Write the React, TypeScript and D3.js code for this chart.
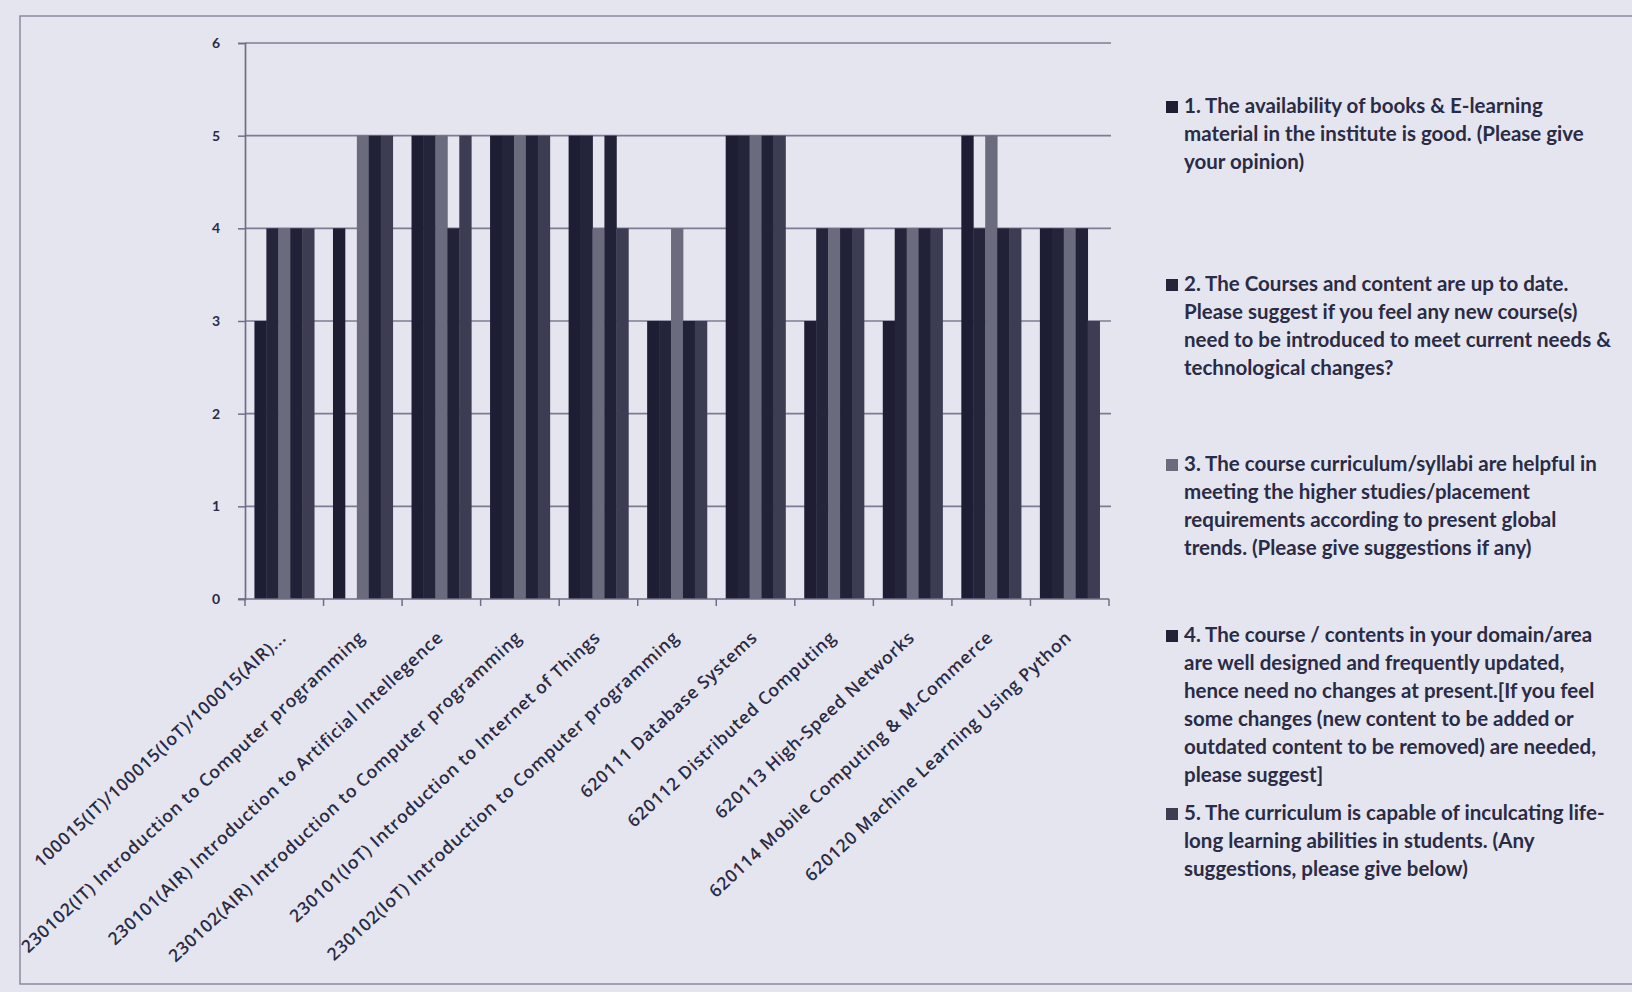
import React, { useEffect, useRef } from 'react';
import * as d3 from 'd3';

const courses = [
  '100015(IT)/100015(IoT)/100015(AIR)...',
  '230102(IT) Introduction to Computer programming',
  '230101(AIR) Introduction to Artificial Intellegence',
  '230102(AIR) Introduction to Computer programming',
  '230101(IoT) Introduction to Internet of Things',
  '230102(IoT) Introduction to Computer programming',
  '620111 Database Systems',
  '620112 Distributed Computing',
  '620113 High-Speed Networks',
  '620114 Mobile Computing & M-Commerce',
  '620120 Machine Learning Using Python'
];

const q1 = [3, 4, 5, 5, 5, 3, 5, 3, 3, 5, 4];
const q2 = [4, 0, 5, 5, 5, 3, 5, 4, 4, 4, 4];
const q3 = [4, 5, 5, 5, 4, 4, 5, 4, 4, 5, 4];
const q4 = [4, 5, 4, 5, 5, 3, 5, 4, 4, 4, 4];
const q5 = [4, 5, 5, 5, 4, 3, 5, 4, 4, 4, 3];

const yTicks = [0, 1, 2, 3, 4, 5, 6];

const legendLines = [
  ['1. The availability of books & E-learning', 'material in the institute is good. (Please give', 'your opinion)'],
  ['2. The Courses and content are up to date.', 'Please suggest if you feel any new course(s)', 'need to be introduced to meet current needs &', 'technological changes?'],
  ['3. The course curriculum/syllabi are helpful in', 'meeting the higher studies/placement', 'requirements according to present global', 'trends. (Please give suggestions if any)'],
  ['4. The course / contents in your domain/area', 'are well designed and frequently updated,', 'hence need no changes at present.[If you feel', 'some changes (new content to be added or', 'outdated content to be removed) are needed,', 'please suggest]'],
  ['5. The curriculum is capable of inculcating life-', 'long learning abilities in students. (Any', 'suggestions, please give below)']
];
const legendTops = [113, 291, 471, 642, 820];

const seriesColors = ['#1d1e34', '#24253b', '#6a6b7d', '#212238', '#3c3d52'];

export default function App() {
  const svgRef = useRef<SVGSVGElement>(null);

  useEffect(() => {
    if (!svgRef.current) return;
    const svg = d3.select(svgRef.current);
    svg.selectAll('*').remove();

    const W = 1632, H = 992;
    const left = 245, right = 1109, top = 43, bottom = 599;
    const ink = '#2a2b45';

    svg.append('rect').attr('width', W).attr('height', H).attr('fill', '#e5e5ef');

    // chart frame
    svg.append('rect')
      .attr('x', 20).attr('y', 16).attr('width', W).attr('height', 968)
      .attr('fill', 'none').attr('stroke', '#8a8aa0').attr('stroke-width', 1.5);

    const series = [q1, q2, q3, q4, q5];

    const x = d3.scaleBand<string>()
      .domain(courses)
      .range([left, right])
      .paddingInner(0.24)
      .paddingOuter(0.12);

    const xs = d3.scaleBand<number>()
      .domain(d3.range(series.length))
      .range([0, x.bandwidth()]);

    const y = d3.scaleLinear().domain([0, 6]).range([bottom, top]);

    const g = svg.append('g');

    // gridlines
    g.selectAll('.grid')
      .data(yTicks.filter(t => t > 0))
      .enter()
      .append('line')
      .attr('x1', left).attr('x2', right + 2)
      .attr('y1', d => y(d)).attr('y2', d => y(d))
      .attr('stroke', '#7c7c94').attr('stroke-width', 1.7);

    // bars
    courses.forEach((c, ci) => {
      series.forEach((s, si) => {
        if (s[ci] <= 0) return;
        g.append('rect')
          .attr('x', (x(c) as number) + (xs(si) as number))
          .attr('y', y(s[ci]))
          .attr('width', xs.bandwidth() + 0.4)
          .attr('height', y(0) - y(s[ci]))
          .attr('fill', seriesColors[si]);
      });
    });

    // y axis
    const yAxis = g.append('g')
      .attr('transform', `translate(${left},0)`)
      .call(d3.axisLeft(y).tickValues(yTicks).tickSize(7).tickPadding(18).tickFormat(d3.format('d')));
    yAxis.select('.domain').attr('stroke', '#6e6e88').attr('stroke-width', 1.7);
    yAxis.selectAll('.tick line').attr('stroke', '#6e6e88').attr('stroke-width', 1.5);
    yAxis.selectAll('.tick text')
      .attr('fill', ink)
      .style('font-family', 'Lato, sans-serif')
      .style('font-weight', 700)
      .style('font-size', '14px');

    // x axis line with ticks at category boundaries
    g.append('line')
      .attr('x1', left - 7).attr('x2', right)
      .attr('y1', bottom).attr('y2', bottom)
      .attr('stroke', '#6e6e88').attr('stroke-width', 1.7);
    const step = x.step();
    d3.range(courses.length + 1).forEach(i => {
      const bx = left + i * step;
      g.append('line')
        .attr('x1', bx).attr('x2', bx)
        .attr('y1', bottom).attr('y2', bottom + 7)
        .attr('stroke', '#6e6e88').attr('stroke-width', 1.5);
    });

    // category labels
    g.selectAll('.xlab')
      .data(courses)
      .enter()
      .append('text')
      .attr('transform', d => `translate(${(x(d) as number) + x.bandwidth() / 2 + 3},${bottom + 40}) rotate(-43)`)
      .attr('text-anchor', 'end')
      .attr('fill', ink)
      .style('font-family', '"Open Sans", sans-serif')
      .style('font-weight', 600)
      .style('font-size', '17.5px')
      .style('letter-spacing', '0.7px')
      .text(d => d);

    // legend
    const lg = svg.append('g');
    legendLines.forEach((lines, i) => {
      const ty = legendTops[i];
      lg.append('rect')
        .attr('x', 1166).attr('y', ty - 12).attr('width', 12).attr('height', 12)
        .attr('fill', seriesColors[i]);
      lines.forEach((ln, li) => {
        lg.append('text')
          .attr('x', 1184)
          .attr('y', ty + li * 27.9)
          .attr('fill', ink)
          .style('font-family', 'Lato, sans-serif')
          .style('font-weight', 700)
          .style('font-size', '20.5px')
          .text(ln);
      });
    });
  }, []);

  return (
    <svg
      ref={svgRef}
      width={1632}
      height={992}
      style={{ position: 'fixed', left: 0, top: 0, display: 'block' }}
    />
  );
}
